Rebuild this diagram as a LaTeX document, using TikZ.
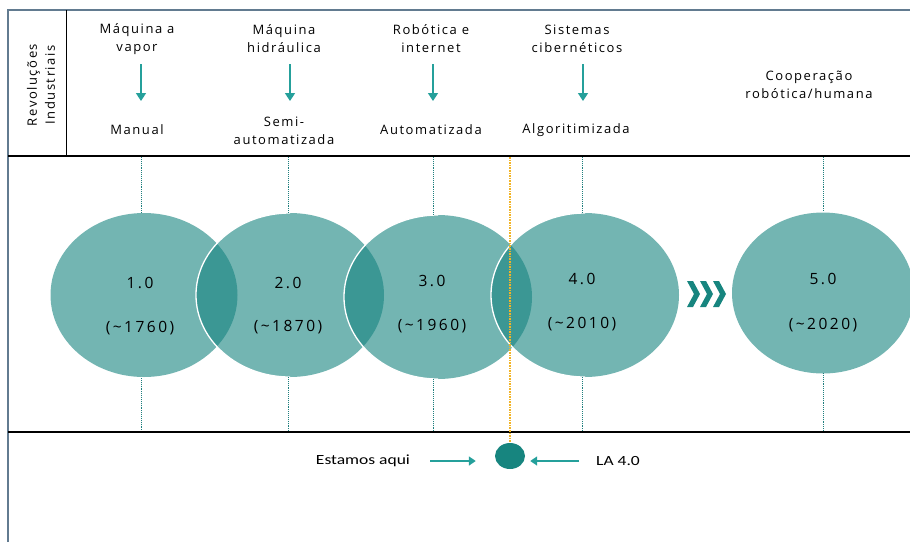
\documentclass[tikz,border=0pt]{standalone}
\usepackage{fontspec}
\usepackage{graphicx}
\setmainfont{Open Sans}
\newfontfamily\hfont{Open Sans}[LetterSpace=12]
\newfontfamily\yfont{Open Sans}[LetterSpace=16]
\newfontfamily\bfont{Carlito}
\usetikzlibrary{arrows.meta,shapes.geometric}
\definecolor{frameblue}{HTML}{627B90}
\definecolor{erateal}{HTML}{16837F}
\definecolor{arrowteal}{HTML}{25A09B}
\definecolor{darkteal}{HTML}{17857F}
\definecolor{guideteal}{HTML}{1F7F7E}
\definecolor{orangeline}{HTML}{F2B427}
\begin{document}
\begin{tikzpicture}[x=1pt,y=-1pt,
 hdr/.style={font=\hfont\fontsize{13}{18}\selectfont, align=center, inner sep=0pt},
 yearlbl/.style={font=\yfont\fontsize{15.5}{18}\selectfont, inner sep=0pt},
 era/.style={ellipse, fill=erateal, fill opacity=0.6, draw=none, inner sep=0pt},
 downarrow/.style={draw=arrowteal, line width=1.6pt, -{Triangle[width=10pt,length=8pt]}},
 guide/.style={draw=guideteal, densely dotted, line width=0.9pt},
 nowline/.style={draw=orangeline, densely dotted, line width=1.6pt},
 rim/.style={draw=white, line width=1.3pt},
 chev/.style={fill=darkteal, draw=none},
 sepline/.style={draw=black, line width=1.2pt},
 frameline/.style={draw=frameblue, line width=2pt},
 btxt/.style={font=\bfont\fontsize{14}{16}\selectfont, inner sep=0pt},
 sidearrow/.style={draw=arrowteal, line width=1.6pt, -{Triangle[width=9pt,length=7pt]}}
]
\useasboundingbox (0,0) rectangle (910,542);

% frame
\draw[frameline] (8,542) -- (8,10) -- (910,10);
\draw[sepline] (8,156) -- (910,156);
\draw[sepline] (8,432) -- (910,432);
\draw[sepline, line width=1pt] (66,10) -- (66,156);

% eras
\node[era, minimum width=187pt, minimum height=164pt] (e1) at (144,295) {};
\node[era, minimum width=188pt, minimum height=164pt] (e2) at (290,295) {};
\node[era, minimum width=188pt, minimum height=164pt] (e3) at (438,297) {};
\node[era, minimum width=188pt, minimum height=164pt] (e4) at (585,295) {};
\node[era, minimum width=182pt, minimum height=161pt] (e5) at (823,293) {};

% white rims on left sides of overlapping eras
\draw[rim] (e2.center) ++(90:94 and 82) arc[start angle=90, end angle=270, x radius=94, y radius=82];
\draw[rim] (e3.center) ++(90:94 and 82) arc[start angle=90, end angle=270, x radius=94, y radius=82];
\draw[rim] (e4.center) ++(90:94 and 82) arc[start angle=90, end angle=270, x radius=94, y radius=82];

% guides
\coordinate (g1a) at (141,157); \coordinate (g1b) at (141,213);
\coordinate (g1c) at (141,378); \coordinate (g1d) at (141,431);
\coordinate (g2a) at (288,157); \coordinate (g2b) at (288,213);
\coordinate (g2c) at (288,377); \coordinate (g2d) at (288,431);
\coordinate (g3a) at (433,157); \coordinate (g3b) at (433,215);
\coordinate (g3c) at (433,379); \coordinate (g3d) at (433,431);
\coordinate (g4a) at (582,157); \coordinate (g4b) at (582,213);
\coordinate (g4c) at (582,377); \coordinate (g4d) at (582,431);
\coordinate (g5a) at (823,157); \coordinate (g5b) at (823,212);
\coordinate (g5c) at (823,373); \coordinate (g5d) at (823,431);
\draw[guide] (g1a) -- (g1b); \draw[guide] (g1c) -- (g1d);
\draw[guide] (g2a) -- (g2b); \draw[guide] (g2c) -- (g2d);
\draw[guide] (g3a) -- (g3b); \draw[guide] (g3c) -- (g3d);
\draw[guide] (g4a) -- (g4b); \draw[guide] (g4c) -- (g4d);
\draw[guide] (g5a) -- (g5b); \draw[guide] (g5c) -- (g5d);

% year labels
\node[yearlbl] (y1a) at (140,283) {1.0};
\node[yearlbl] (y1b) at (140,328) {(\textasciitilde1760)};
\node[yearlbl] (y2a) at (288,283) {2.0};
\node[yearlbl] (y2b) at (288,327) {(\textasciitilde1870)};
\node[yearlbl] (y3a) at (432,281) {3.0};
\node[yearlbl] (y3b) at (432,326) {(\textasciitilde1960)};
\node[yearlbl] (y4a) at (582,279) {4.0};
\node[yearlbl] (y4b) at (582,324) {(\textasciitilde2010)};
\node[yearlbl] (y5a) at (823,279) {5.0};
\node[yearlbl] (y5b) at (823,325) {(\textasciitilde2020)};

% chevrons
\foreach \dx in {0,13,26}{
  \fill[chev] (687+\dx,281) -- (693+\dx,281) -- (700+\dx,294) -- (693+\dx,307) -- (687+\dx,307) -- (694+\dx,294) -- cycle;
}

% header
\node[hdr, rotate=90] (rev) at (41,85) {Revoluções\\Industriais};
\node[hdr] (h1) at (137,39) {Máquina a\\vapor};
\node[hdr] (o1) at (137,130) {Manual};
\node[hdr] (h2) at (284,39) {Máquina\\hidráulica};
\node[hdr] (o2) at (284,131) {Semi-\\automatizada};
\node[hdr] (h3) at (431,39) {Robótica e\\internet};
\node[hdr] (o3) at (431,130) {Automatizada};
\node[hdr] (h4) at (577,39) {Sistemas\\cibernéticos};
\node[hdr] (o4) at (576,130) {Algoritimizada};
\node[hdr] (h5) at (809,85) {Cooperação\\robótica/humana};

\coordinate (a1s) at (141,64); \coordinate (a1e) at (141,101);
\coordinate (a2s) at (290,64); \coordinate (a2e) at (290,101);
\coordinate (a3s) at (433,64); \coordinate (a3e) at (433,101);
\coordinate (a4s) at (583,64); \coordinate (a4e) at (583,101);
\draw[downarrow] (a1s) -- (a1e);
\draw[downarrow] (a2s) -- (a2e);
\draw[downarrow] (a3s) -- (a3e);
\draw[downarrow] (a4s) -- (a4e);

% now marker
\node[ellipse, fill=darkteal, minimum width=30pt, minimum height=26pt, inner sep=0pt] (now) at (510,456) {};
\coordinate (nowtop) at (510,157);
\draw[nowline] (nowtop) -- (now.north);
\node[btxt] (here) at (363,461) {\scalebox{1.25}[1]{Estamos aqui}};
\node[btxt] (la) at (618,461) {\scalebox{1.25}[1]{LA 4.0}};
\draw[sidearrow, shorten <=20pt, shorten >=19pt] (here.east) -- (now.west |- here.east);
\draw[sidearrow, shorten <=17pt, shorten >=5pt] (la.west) -- (now.east |- la.west);

\end{tikzpicture}
\end{document}
